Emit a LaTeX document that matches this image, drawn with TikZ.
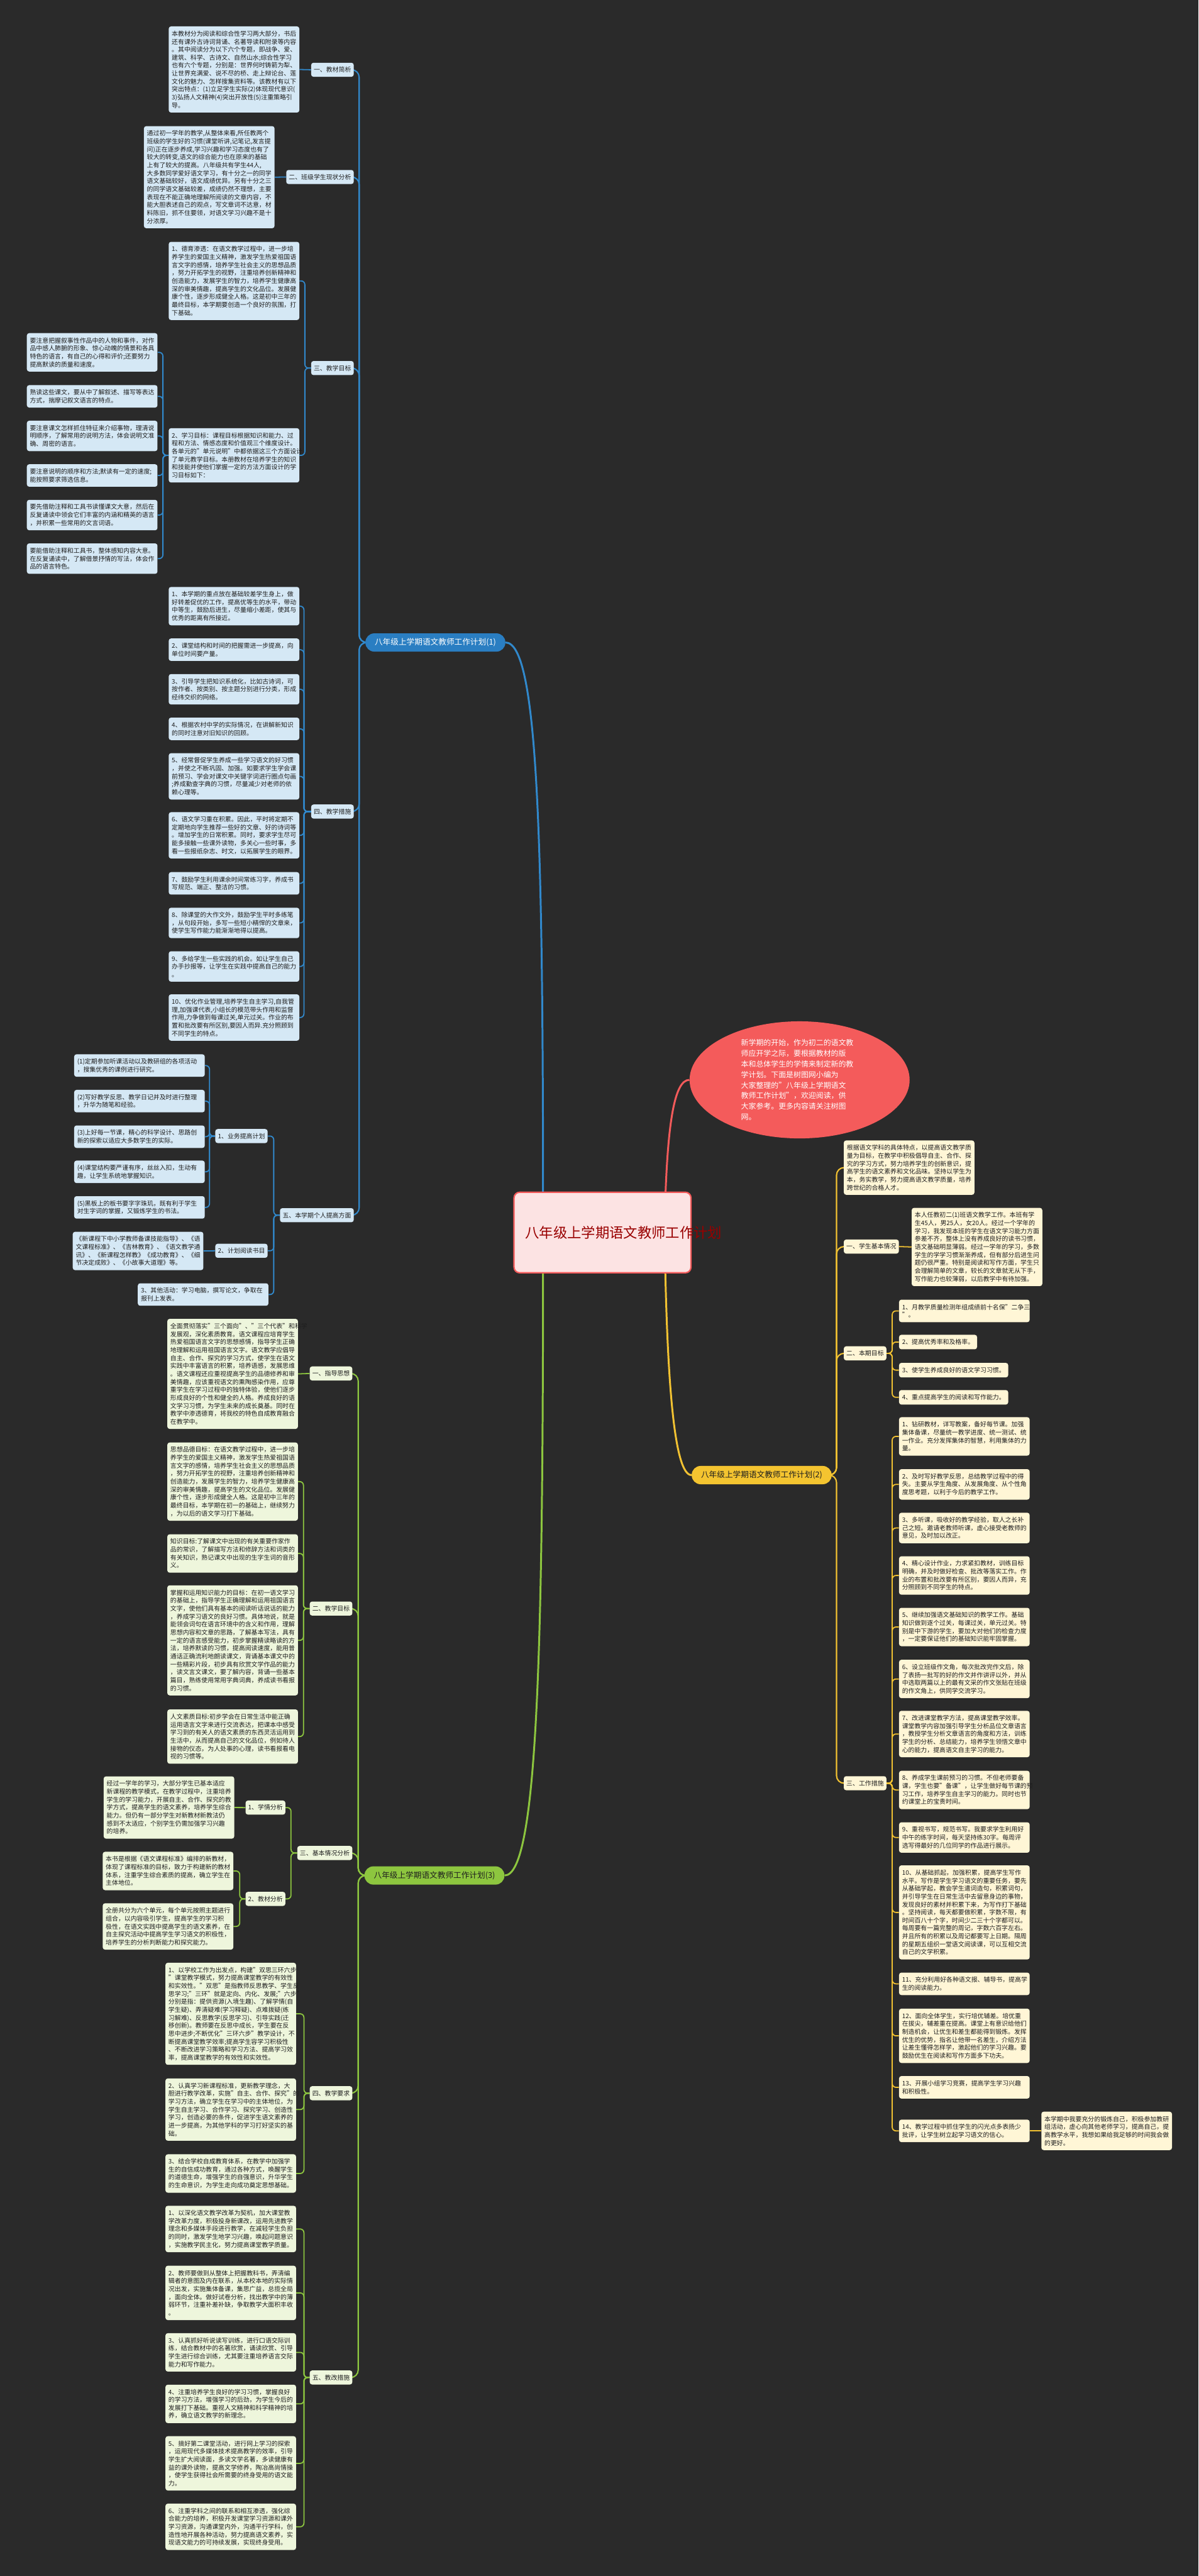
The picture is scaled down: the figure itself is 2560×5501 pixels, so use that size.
\documentclass[tikz,border=0pt]{standalone}
\usepackage{fontspec}
\setmainfont{Noto Sans CJK SC}
\usetikzlibrary{shapes.geometric}
\definecolor{bgc}{HTML}{2A2A2A}
\definecolor{txt}{HTML}{1E1E1E}
\definecolor{bluefill}{HTML}{D5E8F5}
\definecolor{blueline}{HTML}{3189CC}
\definecolor{bluenode}{HTML}{2A7EC2}
\definecolor{greenfill}{HTML}{EEF6DC}
\definecolor{greenline}{HTML}{8DC63F}
\definecolor{greennode}{HTML}{8DC63F}
\definecolor{yelfill}{HTML}{FFF6D6}
\definecolor{yelline}{HTML}{F2C232}
\definecolor{yelnode}{HTML}{F4C430}
\definecolor{redfill}{HTML}{F45B5B}
\definecolor{cfill}{HTML}{FCE3E3}
\pgfdeclarelayer{bg}
\pgfsetlayers{bg,main}
\tikzset{
  base/.style={rectangle, rounded corners=2.5pt, align=left, inner xsep=3.25pt, inner ysep=2pt, font=\fontsize{6.65pt}{8.5pt}\selectfont, text=txt},
  tw/.style={text width=133pt},
  bbx/.style={base, tw, fill=bluefill},
  gbx/.style={base, tw, fill=greenfill},
  ybx/.style={base, tw, fill=yelfill},
  ybx1/.style={base, fill=yelfill},
  blb/.style={base, fill=bluefill, minimum height=15pt, inner xsep=2.8pt},
  glb/.style={base, fill=greenfill, minimum height=15pt, inner xsep=2.8pt},
  ylb/.style={base, fill=yelfill, minimum height=15pt, inner xsep=2.8pt},
  brn/.style={rectangle, rounded corners=9.5pt, minimum height=19.5pt, inner xsep=10pt, inner ysep=0pt, font=\fontsize{8.5pt}{10pt}\selectfont},
  bl/.style={draw=blueline, line width=1.2pt, rounded corners=4pt},
  gl/.style={draw=greenline, line width=1.2pt, rounded corners=4pt},
  yl/.style={draw=yelline, line width=1.2pt, rounded corners=4pt},
  blt/.style={draw=blueline, line width=1.4pt, rounded corners=8pt},
  glt/.style={draw=greenline, line width=1.4pt, rounded corners=8pt},
  ylt/.style={draw=yelline, line width=1.4pt, rounded corners=8pt},
}
\newcommand\nbox[6]{\node[#1,anchor=north west,minimum height={8.5pt*#5+7pt}] (#2) at (#3,#4) {#6};}
\newcommand\labL[5]{\node[#1,anchor=east] (#2) at (#3,#4) {#5};}
\newcommand\labR[5]{\node[#1,anchor=west] (#2) at (#3,#4) {#5};}
\newcommand\cnL[4]{\draw[#1] (#2.west) -- ++(-#3,0) |- (#4.east);}
\newcommand\cnR[4]{\draw[#1] (#2.east) -- ++(#3,0) |- (#4.west);}
\begin{document}
\begin{tikzpicture}[x=0.5pt,y=-0.5pt]
\useasboundingbox (0,0) rectangle (2560,5501);
% ---------- center ----------
\node[rectangle, rounded corners=6pt, fill=cfill, draw=redfill, line width=1.5pt, text=red!60!black, align=center, text width=165pt, minimum width=189pt, minimum height=86pt, font=\fontsize{15pt}{22pt}\selectfont] (C) at (1287,2632) {八年级上学期语文教师工作计划};
\node[ellipse, fill=redfill, text=white, align=left, text width=125pt, minimum width=235pt, minimum height=125pt, inner sep=0pt, font=\fontsize{8pt}{11.35pt}\selectfont] (E) at (1708,2306) {新学期的开始，作为初二的语文教\\师应开学之际，要根据教材的版\\本和总体学生的学情来制定新的教\\学计划。下面是树图网小编为\\大家整理的"八年级上学期语文\\教师工作计划"，欢迎阅读，供\\大家参考。更多内容请关注树图\\网。};
% ---------- branch nodes ----------
\node[brn, fill=bluenode, text=white] (Br1) at (930,1372) {八年级上学期语文教师工作计划(1)};
\node[brn, fill=yelnode, text=txt] (Br2) at (1627,3150) {八年级上学期语文教师工作计划(2)};
\node[brn, fill=greennode, text=txt] (Br3) at (928,4005) {八年级上学期语文教师工作计划(3)};
% ---------- branch 1 (blue) ----------
\labL{blb}{Lb1}{756}{149}{一、教材简析}
\labL{blb}{Lb2}{756}{378}{二、班级学生现状分析}
\labL{blb}{Lb3}{756}{786}{三、教学目标}
\labL{blb}{Lb4}{756}{1733}{四、教学措施}
\labL{blb}{Lb5}{756}{2595}{五、本学期个人提高方面}
\labL{blb}{Lb51}{572}{2426}{1、业务提高计划}
\labL{blb}{Lb52}{572}{2671}{2、计划阅读书目}
\nbox{bbx}{A1}{360}{56}{10}{本教材分为阅读和综合性学习两大部分，书后\\还有课外古诗词背诵、名著导读和附录等内容\\。其中阅读分为以下六个专题，即战争、爱、\\建筑、科学、古诗文、自然山水;综合性学习\\也有六个专题，分别是：世界何时铸箭为犁、\\让世界充满爱、说不尽的桥、走上辩论台、莲\\文化的魅力、怎样搜集资料等。该教材有以下\\突出特点：(1)立足学生实际(2)体现现代意识(\\3)弘扬人文精神(4)突出开放性(5)注重策略引\\导。}
\nbox{bbx}{A2}{307}{269}{12}{通过初一学年的教学,从整体来看,所任教两个\\班级的学生好的习惯(课堂听讲,记笔记,发言提\\问)正在逐步养成,学习兴趣和学习态度也有了\\较大的转变,语文的综合能力也在原来的基础\\上有了较大的提高。八年级共有学生44人,\\大多数同学爱好语文学习，有十分之一的同学\\语文基础较好，语文成绩优异。另有十分之三\\的同学语文基础较差，成绩仍然不理想，主要\\表现在不能正确地理解所阅读的文章内容，不\\能大胆表述自己的观点，写文章词不达意，材\\料陈旧，抓不住要领，对语文学习兴趣不是十\\分浓厚。}
\nbox{bbx}{A3}{360}{516}{9}{1、德育渗透：在语文教学过程中，进一步培\\养学生的爱国主义精神，激发学生热爱祖国语\\言文字的感情，培养学生社会主义的思想品质\\，努力开拓学生的视野，注重培养创新精神和\\创造能力，发展学生的智力，培养学生健康高\\深的审美情趣，提高学生的文化品位。发展健\\康个性，逐步形成健全人格。这是初中三年的\\最终目标，本学期要创造一个良好的氛围，打\\下基础。}
\nbox{bbx}{A4}{360}{914}{6}{2、学习目标：课程目标根据知识和能力、过\\程和方法、情感态度和价值观三个维度设计。\\各单元的"单元说明"中都依据这三个方面设计\\了单元教学目标。本册教材在培养学生的知识\\和技能并使他们掌握一定的方法方面设计的学\\习目标如下：}
\nbox{bbx}{B1}{57}{711}{4}{要注意把握叙事性作品中的人物和事件，对作\\品中感人肺腑的形象、惊心动魄的情景和各具\\特色的语言，有自己的心得和评价;还要努力\\提高默读的质量和速度。}
\nbox{bbx}{B2}{57}{822}{2}{熟读这些课文，要从中了解叙述、描写等表达\\方式，揣摩记叙文语言的特点。}
\nbox{bbx}{B3}{57}{898}{3}{要注意课文怎样抓住特征来介绍事物，理清说\\明顺序，了解常用的说明方法，体会说明文准\\确、周密的语言。}
\nbox{bbx}{B4}{57}{991}{2}{要注意说明的顺序和方法;默读有一定的速度;\\能按照要求筛选信息。}
\nbox{bbx}{B5}{57}{1067}{3}{要先借助注释和工具书读懂课文大意，然后在\\反复诵读中领会它们丰富的内涵和精英的语言\\，并积累一些常用的文言词语。}
\nbox{bbx}{B6}{57}{1160}{3}{要能借助注释和工具书，整体感知内容大意。\\在反复诵读中，了解借景抒情的写法，体会作\\品的语言特色。}
\nbox{bbx}{C1}{360}{1253}{4}{1、本学期的重点放在基础较差学生身上，做\\好转差促优的工作，提高优等生的水平，带动\\中等生，鼓励后进生，尽量缩小差距，使其与\\优秀的距离有所接近。}
\nbox{bbx}{C2}{360}{1363}{2}{2、课堂结构和时间的把握需进一步提高，向\\单位时间要产量。}
\nbox{bbx}{C3}{360}{1439}{3}{3、引导学生把知识系统化，比如古诗词，可\\按作者、按类别、按主题分别进行分类，形成\\经纬交织的网络。}
\nbox{bbx}{C4}{360}{1532}{2}{4、根据农村中学的实际情况，在讲解新知识\\的同时注意对旧知识的回顾。}
\nbox{bbx}{C5}{360}{1608}{5}{5、经常督促学生养成一些学习语文的好习惯\\，并使之不断巩固、加强。如要求学生学会课\\前预习、学会对课文中关键字词进行圈点句画\\;养成勤查字典的习惯，尽量减少对老师的依\\赖心理等。}
\nbox{bbx}{C6}{360}{1734}{5}{6、语文学习重在积累。因此，平时将定期不\\定期地向学生推荐一些好的文章、好的诗词等\\。增加学生的日常积累。同时，要求学生尽可\\能多接触一些课外读物，多关心一些时事，多\\看一些报纸杂志、时文，以拓展学生的眼界。}
\nbox{bbx}{C7}{360}{1862}{2}{7、鼓励学生利用课余时间常练习字，养成书\\写规范、端正、整洁的习惯。}
\nbox{bbx}{C8}{360}{1938}{3}{8、除课堂的大作文外，鼓励学生平时多练笔\\，从句段开始，多写一些短小精悍的文章来，\\使学生写作能力能渐渐地得以提高。}
\nbox{bbx}{C9}{360}{2031}{3}{9、多给学生一些实践的机会。如让学生自己\\办手抄报等，让学生在实践中提高自己的能力\\。}
\nbox{bbx}{C10}{360}{2123}{5}{10、优化作业管理,培养学生自主学习,自我管\\理,加强课代表,小组长的模范带头作用和监督\\作用,力争做到每课过关,单元过关。作业的布\\置和批改要有所区别,要因人而异.充分照顾到\\不同学生的特点。}
\nbox{bbx}{D1}{158}{2251}{2}{(1)定期参加听课活动以及教研组的各项活动\\，搜集优秀的课例进行研究。}
\nbox{bbx}{D2}{158}{2327}{2}{(2)写好教学反思、教学日记并及时进行整理\\，升华为随笔和经验。}
\nbox{bbx}{D3}{158}{2403}{2}{(3)上好每一节课，精心的科学设计、思路创\\新的探索以适应大多数学生的实际。}
\nbox{bbx}{D4}{158}{2478}{2}{(4)课堂结构要严谨有序，丝丝入扣，生动有\\趣，让学生系统地掌握知识。}
\nbox{bbx}{D5}{158}{2554}{2}{(5)黑板上的板书要字字珠玑，既有利于学生\\对生字词的掌握，又锻炼学生的书法。}
\nbox{bbx}{BK}{155}{2630}{4}{《新课程下中小学教师备课技能指导》、《语\\文课程标准》、《吉林教育》、《语文教学通\\讯》、《新课程怎样教》《成功教育》、《细\\节决定成败》、《小故事大道理》等。}
\nbox{bbx}{O3}{294}{2740}{2}{3、其他活动：学习电脑，撰写论文，争取在\\报刊上发表。}
% ---------- branch 3 (green) ----------
\labL{glb}{Lg1}{753}{2933}{一、指导思想}
\labL{glb}{Lg2}{753}{3435}{二、教学目标}
\labL{glb}{Lg3}{753}{3957}{三、基本情况分析}
\labL{glb}{Lg31}{610}{3860}{1、学情分析}
\labL{glb}{Lg32}{610}{4055}{2、教材分析}
\labL{glb}{Lg4}{753}{4470}{四、教学要求}
\labL{glb}{Lg5}{753}{5077}{五、教改措施}
\nbox{gbx}{E1}{357}{2816}{13}{全面贯彻落实"三个面向"、"三个代表"和科学\\发展观，深化素质教育。语文课程应培育学生\\热爱祖国语言文字的思想感情，指导学生正确\\地理解和运用祖国语言文字。语文教学应倡导\\自主、合作、探究的学习方式，使学生在语文\\实践中丰富语言的积累，培养语感，发展思维\\。语文课程还应重视提高学生的品德修养和审\\美情趣，应该重视语文的熏陶感染作用，应尊\\重学生在学习过程中的独特体验，使他们逐步\\形成良好的个性和健全的人格。养成良好的语\\文学习习惯，为学生未来的成长奠基。同时在\\教学中渗透德育，将我校的特色自成教育融合\\在教学中。}
\nbox{gbx}{E2}{357}{3080}{9}{思想品德目标：在语文教学过程中，进一步培\\养学生的爱国主义精神，激发学生热爱祖国语\\言文字的感情，培养学生社会主义的思想品质\\，努力开拓学生的视野，注重培养创新精神和\\创造能力，发展学生的智力，培养学生健康高\\深的审美情趣，提高学生的文化品位。发展健\\康个性，逐步形成健全人格。这是初中三年的\\最终目标，本学期在初一的基础上，继续努力\\，为以后的语文学习打下基础。}
\nbox{gbx}{E3}{357}{3276}{4}{知识目标:了解课文中出现的有关重要作家作\\品的常识，了解描写方法和修辞方法和词类的\\有关知识，熟记课文中出现的生字生词的音形\\义。}
\nbox{gbx}{E4}{357}{3385}{13}{掌握和运用知识能力的目标：在初一语文学习\\的基础上，指导学生正确理解和运用祖国语言\\文字，使他们具有基本的阅读听话说话的能力\\，养成学习语文的良好习惯。具体地说，就是\\能领会词句在语言环境中的含义和作用，理解\\思想内容和文章的思路，了解基本写法，具有\\一定的语言感受能力，初步掌握精读略读的方\\法，培养默读的习惯，提高阅读速度，能用普\\通话正确流利地朗读课文，背诵基本课文中的\\一些精彩片段，初步具有欣赏文学作品的能力\\，读文言文课文，要了解内容，背诵一些基本\\篇目，熟练使用常用字典词典，养成读书看报\\的习惯。}
\nbox{gbx}{E5}{357}{3650}{6}{人文素质目标:初步学会在日常生活中能正确\\运用语言文字来进行交流表达，把课本中感受\\学习到的有关人的语文素质的东西灵活运用到\\生活中，从而提高自己的文化品位，例如待人\\接物的仪态，为人处事的心理，读书看报看电\\视的习惯等。}
\nbox{gbx}{F1}{221}{3793}{7}{经过一学年的学习，大部分学生已基本适应\\新课程的教学模式，在教学过程中，注重培养\\学生的学习能力，开展自主、合作、探究的教\\学方式，提高学生的语文素养，培养学生综合\\能力。但仍有一部分学生对新教材新教法仍\\感到不太适应，个别学生仍需加强学习兴趣\\的培养。}
\nbox{gbx}{F2}{219}{3954}{4}{本书是根据《语文课程标准》编排的新教材，\\体现了课程标准的目标，致力于构建新的教材\\体系，注重学生综合素质的提高，确立学生在\\主体地位。}
\nbox{gbx}{F3}{219}{4064}{5}{全册共分为六个单元，每个单元按照主题进行\\组合，以内容吸引学生，提高学生的学习积\\极性，在语文实践中提高学生的语文素养，在\\自主探究活动中提高学生学习语文的积极性，\\培养学生的分析判断能力和探究能力。}
\nbox{gbx}{G1}{353}{4191}{12}{1、以学校工作为出发点，构建"双思三环六步\\"课堂教学模式，努力提高课堂教学的有效性\\和实效性。"双思"是指教师反思教学、学生反\\思学习;"三环"就是定向、内化、发展;"六步"\\分别是指：提供资源(入境生趣)、了解学情(自\\学生疑)、弄清疑难(学习释疑)、点难拨疑(练\\习解难)、反思教学(反思学习)、引导实践(迁\\移创新)。教师要在反思中成长，学生要在反\\思中进步;不断优化"三环六步"教学设计，不\\断提高课堂教学效率;提高学生容学习积极性\\、不断改进学习策略和学习方法、提高学习效\\率，提高课堂教学的有效性和实效性。}
\nbox{gbx}{G2}{353}{4438}{7}{2、认真学习新课程标准，更新教学理念，大\\胆进行教学改革，实施"自主、合作、探究"的\\学习方法，确立学生在学习中的主体地位，为\\学生自主学习、合作学习、探究学习、创造性\\学习，创造必要的条件，促进学生语文素养的\\进一步提高，为其他学科的学习打好坚实的基\\础。}
\nbox{gbx}{G3}{353}{4600}{4}{3、结合学校自成教育体系，在教学中加强学\\生的自信成功教育，通过各种方式，唤醒学生\\的道德生命，增强学生的自强意识，升华学生\\的生命意识，为学生走向成功奠定思想基础。}
\nbox{gbx}{H1}{353}{4710}{5}{1、以深化语文教学改革为契机，加大课堂教\\学改革力度，积极投身新课改，运用先进教学\\理念和多媒体手段进行教学，在减轻学生负担\\的同时，激发学生地学习兴趣，唤起问题意识\\，实施教学民主化，努力提高课堂教学质量。}
\nbox{gbx}{H2}{353}{4838}{6}{2、教师要做到从整体上把握教科书，弄清编\\辑者的意图及内在联系，从本校本地的实际情\\况出发，实施集体备课，集思广益，总揽全局\\，面向全体。做好试卷分析，找出教学中的薄\\弱环节，注重补差补缺，争取教学大面积丰收\\。}
\nbox{gbx}{H3}{353}{4982}{4}{3、认真抓好听说读写训练，进行口语交际训\\练，结合教材中的名著欣赏，诵读欣赏、引导\\学生进行综合训练，尤其要注重培养语言交际\\能力和写作能力。}
\nbox{gbx}{H4}{353}{5092}{4}{4、注重培养学生良好的学习习惯，掌握良好\\的学习方法，增强学习的后劲，为学生今后的\\发展打下基础。重视人文精神和科学精神的培\\养，确立语文教学的新理念。}
\nbox{gbx}{H5}{353}{5202}{6}{5、搞好第二课堂活动，进行网上学习的探索\\，运用现代多媒体技术提高教学的效率，引导\\学生扩大阅读面，多读文学名著，多读健康有\\益的课外读物，提高文学修养，陶冶高尚情操\\，使学生获得社会所需要的终身受用的语文能\\力。}
\nbox{gbx}{H6}{353}{5346}{5}{6、注重学科之间的联系和相互渗透，强化综\\合能力的培养，积极开发课堂学习资源和课外\\学习资源，沟通课堂内外，沟通平行学科，创\\造性地开展各种活动，努力提高语文素养，实\\现语文能力的可持续发展，实现终身受用。}
% ---------- branch 2 (yellow) ----------
\labR{ylb}{Ly1}{1802}{2662}{一、学生基本情况}
\labR{ylb}{Ly2}{1802}{2890}{二、本期目标}
\labR{ylb}{Ly3}{1802}{3808}{三、工作措施}
\nbox{ybx}{I1}{1802}{2435}{6}{根据语文学科的具体特点，以提高语文教学质\\量为目标，在教学中积极倡导自主、合作、探\\究的学习方式，努力培养学生的创新意识，提\\高学生的语文素养和文化品味。坚持以学生为\\本，务实教学，努力提高语文教学质量，培养\\跨世纪的合格人才。}
\nbox{ybx}{I2}{1947}{2579}{9}{本人任教初二(1)班语文教学工作。本班有学\\生45人，男25人，女20人。经过一个学年的\\学习，我发现本班的学生在语文学习能力方面\\参差不齐，整体上没有养成良好的读书习惯，\\语文基础明显薄弱。经过一学年的学习，多数\\学生的学学习惯渐渐养成，但有部分后进生问\\题仍很严重。特别是阅读和写作方面，学生只\\会理解简单的文章，较长的文章就无从下手，\\写作能力也较薄弱，以后教学中有待加强。}
\nbox{ybx}{J1}{1920}{2775}{2}{1、月教学质量检测年组成绩前十名保"二争三\\"。}
\nbox{ybx1}{J2}{1920}{2850}{1}{2、提高优秀率和及格率。}
\nbox{ybx1}{J3}{1920}{2910}{1}{3、使学生养成良好的语文学习习惯。}
\nbox{ybx1}{J4}{1920}{2968}{1}{4、重点提高学生的阅读和写作能力。}
\nbox{ybx}{K1}{1920}{3026}{4}{1、钻研教材，详写教案，备好每节课。加强\\集体备课，尽量统一教学进度、统一测试、统\\一作业。充分发挥集体的智慧，利用集体的力\\量。}
\nbox{ybx}{K2}{1920}{3137}{3}{2、及时写好教学反思，总结教学过程中的得\\失。主要从学生角度、从发展角度、从个性角\\度思考题，以利于今后的教学工作。}
\nbox{ybx}{K3}{1920}{3230}{3}{3、多听课，吸收好的教学经验，取人之长补\\己之短。邀请老教师听课，虚心接受老教师的\\意见，及时加以改正。}
\nbox{ybx}{K4}{1920}{3323}{4}{4、精心设计作业，力求紧扣教材，训练目标\\明确，并及时做好检查、批改等落实工作。作\\业的布置和批改要有所区别，要因人而异，充\\分照顾到不同学生的特点。}
\nbox{ybx}{K5}{1920}{3433}{4}{5、继续加强语文基础知识的教学工作。基础\\知识做到逐个过关，每课过关，单元过关。特\\别是中下游的学生，要加大对他们的检查力度\\，一定要保证他们的基础知识能牢固掌握。}
\nbox{ybx}{K6}{1920}{3544}{4}{6、设立班级作文角，每次批改完作文后，除\\了表扬一批写的好的作文并作讲评以外，并从\\中选取两篇以上的最有文采的作文张贴在班级\\的作文角上，供同学交流学习。}
\nbox{ybx}{K7}{1920}{3653}{5}{7、改进课堂教学方法，提高课堂教学效率。\\课堂教学内容加强引导学生分析品位文章语言\\，教授学生分析文章语言的角度和方法，训练\\学生的分析、总结能力，培养学生领悟文章中\\心的能力，提高语文自主学习的能力。}
\nbox{ybx}{K8}{1920}{3781}{4}{8、养成学生课前预习的习惯。不但老师要备\\课，学生也要"备课"，让学生做好每节课的预\\习工作，培养学生自主学习的能力。同时也节\\约课堂上的宝贵时间。}
\nbox{ybx}{K9}{1920}{3891}{3}{9、重视书写，规范书写。我要求学生利用好\\中午的练字时间，每天坚持练30字。每周评\\选写得最好的几位同学的作品进行展示。}
\nbox{ybx}{K10}{1920}{3983}{11}{10、从基础抓起，加强积累，提高学生写作\\水平。写作是学生学习语文的重要任务，要先\\从基础学起，教会学生遣词造句，积累词句，\\并引导学生在日常生活中去留意身边的事物，\\发现良好的素材并积累下来，为写作打下基础\\。坚持阅读，每天都要做积累，字数不限，有\\时间百八十个字，时间少二三十个字都可以。\\每周要有一篇完整的周记，字数六百字左右。\\并且所有的积累以及周记都要写上日期。隔周\\的星期五组织一堂语文阅读课，可以互相交流\\自己的文学积累。}
\nbox{ybx}{K11}{1920}{4212}{2}{11、充分利用好各种语文报、辅导书，提高学\\生的阅读能力。}
\nbox{ybx}{K12}{1920}{4289}{6}{12、面向全体学生，实行培优辅差。培优重\\在拔尖，辅差重在提高。课堂上有意识给他们\\制造机会，让优生和差生都能得到锻炼。发挥\\优生的优势，指名让他带一名差生，介绍方法\\让差生懂得怎样学，激起他们的学习兴趣。要\\鼓励优生在阅读和写作方面多下功夫。}
\nbox{ybx}{K13}{1920}{4433}{2}{13、开展小组学习竞赛，提高学生学习兴趣\\和积极性。}
\nbox{ybx}{K14}{1920}{4526}{2}{14、教学过程中抓住学生的闪光点多表扬少\\批评，让学生树立起学习语文的信心。}
\nbox{ybx}{L1}{2224}{4509}{4}{本学期中我要充分的锻炼自己，积极参加教研\\组活动，虚心向其他老师学习，提高自己，提\\高教学水平，我想如果给我足够的时间我会做\\的更好。}
% ---------- connectors ----------
\begin{pgfonlayer}{bg}
\fill[bgc] (0,0) rectangle (2560,5501);
% center to main branches
\draw[draw=blueline, line width=2pt] (1160,2600) .. controls (1160,1800) and (1150,1372) .. (Br1.east);
\draw[draw=greenline, line width=2pt] (1160,2660) .. controls (1160,3500) and (1150,4005) .. (Br3.east);
\draw[draw=redfill, line width=2pt] (1420,2600) .. controls (1425,2400) and (1440,2306) .. (E.west);
\draw[draw=yelline, line width=2pt] (1420,2660) .. controls (1425,2950) and (1440,3150) .. (Br2.west);
% branch 1
\foreach \n in {Lb1,Lb2,Lb3,Lb4,Lb5} {\cnL{blt}{Br1}{13}{\n}}
\draw[bl] (Lb1.west) -- (A1.east);
\draw[bl] (Lb2.west) -- (A2.east);
\foreach \n in {A3,A4} {\cnL{bl}{Lb3}{13}{\n}}
\foreach \n in {B1,B2,B3,B4,B5,B6} {\cnL{bl}{A4}{12}{\n}}
\foreach \n in {C1,C2,C3,C4,C5,C6,C7,C8,C9,C10} {\cnL{bl}{Lb4}{15}{\n}}
\foreach \n in {Lb51,Lb52,O3} {\cnL{bl}{Lb5}{13}{\n}}
\foreach \n in {D1,D2,D3,D4,D5} {\cnL{bl}{Lb51}{12}{\n}}
\draw[bl] (Lb52.west) -- (BK.east);
% branch 3
\foreach \n in {Lg1,Lg2,Lg3,Lg4,Lg5} {\cnL{glt}{Br3}{13}{\n}}
\draw[gl] (Lg1.west) -- (E1.east);
\foreach \n in {E2,E3,E4,E5} {\cnL{gl}{Lg2}{13}{\n}}
\foreach \n in {Lg31,Lg32} {\cnL{gl}{Lg3}{13}{\n}}
\draw[gl] (Lg31.west) -- (F1.east);
\foreach \n in {F2,F3} {\cnL{gl}{Lg32}{12}{\n}}
\foreach \n in {G1,G2,G3} {\cnL{gl}{Lg4}{12}{\n}}
\foreach \n in {H1,H2,H3,H4,H5,H6} {\cnL{gl}{Lg5}{12}{\n}}
% branch 2
\foreach \n in {I1,Ly1,Ly2,Ly3} {\cnR{ylt}{Br2}{10}{\n}}
\draw[yl] (Ly1.east) -- (I2.west);
\foreach \n in {J1,J2,J3,J4} {\cnR{yl}{Ly2}{12}{\n}}
\foreach \n in {K1,K2,K3,K4,K5,K6,K7,K8,K9,K10,K11,K12,K13,K14} {\cnR{yl}{Ly3}{12}{\n}}
\draw[yl] (K14.east) -- (L1.west);
\end{pgfonlayer}
\end{tikzpicture}
\end{document}
